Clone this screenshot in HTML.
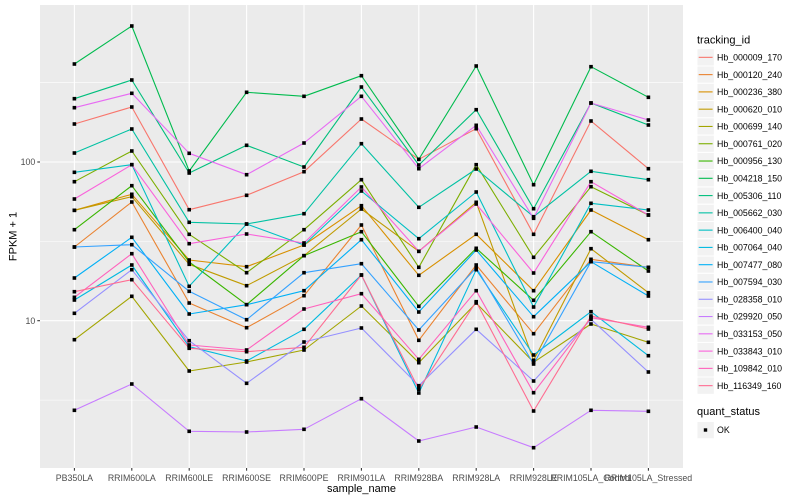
<!DOCTYPE html>
<html><head><meta charset="utf-8"><style>
html,body{margin:0;padding:0;background:#fff;}
svg{display:block;font-family:"Liberation Sans",Arial,sans-serif;}
</style></head><body>
<svg width="800" height="500" viewBox="0 0 800 500" xmlns="http://www.w3.org/2000/svg">
<defs>
<marker id="m" markerUnits="userSpaceOnUse" markerWidth="4" markerHeight="4" refX="1.8" refY="1.8" overflow="visible"><rect x="0" y="0" width="3.6" height="3.6" fill="#000"/></marker>
<polyline id="p1" points="74.4,124 131.8,107 189.2,209.7 246.6,195.3 304,171.7 361.4,119 418.8,159.3 476.2,128.7 533.6,234.3 591,121 648.4,168.7"/>
<polyline id="p2" points="74.4,247 131.8,202 189.2,303 246.6,327.7 304,295.7 361.4,225 418.8,340.3 476.2,265 533.6,333.7 591,259.3 648.4,267.3"/>
<polyline id="p3" points="74.4,210.3 131.8,194.3 189.2,260 246.6,266.7 304,245 361.4,205.7 418.8,275.3 476.2,234.3 533.6,290.7 591,210 648.4,239.7"/>
<polyline id="p4" points="74.4,210.3 131.8,196.7 189.2,264.3 246.6,285.7 304,255.7 361.4,209 418.8,251.3 476.2,202.3 533.6,360.3 591,248.7 648.4,292.7"/>
<polyline id="p5" points="74.4,339.7 131.8,296.3 189.2,371 246.6,362 304,350 361.4,306 418.8,362.7 476.2,303 533.6,362.3 591,324 648.4,342.3"/>
<polyline id="p6" points="74.4,181.7 131.8,151 189.2,234.3 246.6,272.7 304,229.7 361.4,179.7 418.8,267.3 476.2,164.7 533.6,257.3 591,186.7 648.4,215"/>
<polyline id="p7" points="74.4,229.7 131.8,185.7 189.2,262 246.6,304.7 304,255.7 361.4,231.7 418.8,306.3 476.2,248.3 533.6,300.3 591,231.7 648.4,271"/>
<polyline id="p8" points="74.4,64 131.8,26 189.2,171 246.6,92.3 304,96.3 361.4,75.7 418.8,159.3 476.2,66 533.6,184.7 591,66.7 648.4,97.3"/>
<polyline id="p9" points="74.4,98.7 131.8,80 189.2,173 246.6,145.3 304,167 361.4,87 418.8,165 476.2,109.7 533.6,208.7 591,103 648.4,125"/>
<polyline id="p10" points="74.4,153 131.8,129 189.2,222.3 246.6,224 304,213.7 361.4,143.7 418.8,207.3 476.2,169 533.6,216.7 591,171.3 648.4,179.7"/>
<polyline id="p11" points="74.4,172.3 131.8,164.7 189.2,286.3 246.6,224 304,245 361.4,191 418.8,238.7 476.2,192 533.6,307 591,203.3 648.4,210"/>
<polyline id="p12" points="74.4,300 131.8,265 189.2,346.7 246.6,361 304,329.3 361.4,275 418.8,393 476.2,269.7 533.6,355 591,311.7 648.4,355.7"/>
<polyline id="p13" points="74.4,278 131.8,237.3 189.2,314 246.6,304.7 304,290.7 361.4,239.7 418.8,312 476.2,250 533.6,316.7 591,261.7 648.4,296"/>
<polyline id="p14" points="74.4,247 131.8,244.7 189.2,291.3 246.6,319.7 304,272.7 361.4,263.7 418.8,330 476.2,267.7 533.6,364 591,261.7 648.4,267.3"/>
<polyline id="p15" points="74.4,313.3 131.8,269.7 189.2,340.7 246.6,383.3 304,342 361.4,328 418.8,385.7 476.2,329.3 533.6,381 591,319.3 648.4,372"/>
<polyline id="p16" points="74.4,410.3 131.8,384 189.2,431.3 246.6,432 304,429.3 361.4,398.7 418.8,441 476.2,427 533.6,447.7 591,410.3 648.4,411.3"/>
<polyline id="p17" points="74.4,107.7 131.8,93.3 189.2,153.3 246.6,174.7 304,143 361.4,96.3 418.8,168.7 476.2,125.3 533.6,218.3 591,103 648.4,120"/>
<polyline id="p18" points="74.4,199 131.8,164.7 189.2,243.7 246.6,234 304,243 361.4,187 418.8,251.3 476.2,204 533.6,273 591,181.7 648.4,215"/>
<polyline id="p19" points="74.4,297.3 131.8,253.7 189.2,345 246.6,350 304,309 361.4,293.7 418.8,359.3 476.2,290.7 533.6,392.7 591,317.7 648.4,327.3"/>
<polyline id="p20" points="74.4,291.7 131.8,279.7 189.2,348.3 246.6,351.7 304,347.3 361.4,275 418.8,389.3 476.2,301.7 533.6,411 591,316 648.4,329"/>
</defs>

<!-- panel -->
<rect x="40" y="5" width="643" height="463" fill="#EBEBEB"/>
<!-- minor grid -->
<g stroke="#fff" stroke-width="0.55">
<line x1="40" x2="683" y1="82.7" y2="82.7"/>
<line x1="40" x2="683" y1="241.4" y2="241.4"/>
<line x1="40" x2="683" y1="400.1" y2="400.1"/>
</g>
<!-- major grid -->
<g stroke="#fff" stroke-width="1.1">
<line x1="40" x2="683" y1="162" y2="162"/>
<line x1="40" x2="683" y1="320.7" y2="320.7"/>
<line x1="74.4" x2="74.4" y1="5" y2="468"/>
<line x1="131.8" x2="131.8" y1="5" y2="468"/>
<line x1="189.2" x2="189.2" y1="5" y2="468"/>
<line x1="246.6" x2="246.6" y1="5" y2="468"/>
<line x1="304" x2="304" y1="5" y2="468"/>
<line x1="361.4" x2="361.4" y1="5" y2="468"/>
<line x1="418.8" x2="418.8" y1="5" y2="468"/>
<line x1="476.2" x2="476.2" y1="5" y2="468"/>
<line x1="533.6" x2="533.6" y1="5" y2="468"/>
<line x1="591" x2="591" y1="5" y2="468"/>
<line x1="648.4" x2="648.4" y1="5" y2="468"/>
</g>

<!-- lines -->
<g fill="none" stroke-width="1.1" stroke-linejoin="round">
<use href="#p1" stroke="#F8766D"/>
<use href="#p2" stroke="#EA8331"/>
<use href="#p3" stroke="#D89000"/>
<use href="#p4" stroke="#C09B00"/>
<use href="#p5" stroke="#A3A500"/>
<use href="#p6" stroke="#7CAE00"/>
<use href="#p7" stroke="#39B600"/>
<use href="#p8" stroke="#00BB4E"/>
<use href="#p9" stroke="#00BF7D"/>
<use href="#p10" stroke="#00C1A3"/>
<use href="#p11" stroke="#00BFC4"/>
<use href="#p12" stroke="#00BAE0"/>
<use href="#p13" stroke="#00B0F6"/>
<use href="#p14" stroke="#35A2FF"/>
<use href="#p15" stroke="#9590FF"/>
<use href="#p16" stroke="#C77CFF"/>
<use href="#p17" stroke="#E76BF3"/>
<use href="#p18" stroke="#FA62DB"/>
<use href="#p19" stroke="#FF62BC"/>
<use href="#p20" stroke="#FF6C91"/>
</g>
<!-- points -->
<g fill="none" stroke="none" marker-start="url(#m)" marker-mid="url(#m)" marker-end="url(#m)">
<use href="#p1"/><use href="#p2"/><use href="#p3"/><use href="#p4"/><use href="#p5"/>
<use href="#p6"/><use href="#p7"/><use href="#p8"/><use href="#p9"/><use href="#p10"/>
<use href="#p11"/><use href="#p12"/><use href="#p13"/><use href="#p14"/><use href="#p15"/>
<use href="#p16"/><use href="#p17"/><use href="#p18"/><use href="#p19"/><use href="#p20"/>
</g>

<!-- axes ticks -->
<g stroke="#333" stroke-width="1.07">
<line x1="37.3" x2="40" y1="162" y2="162"/>
<line x1="37.3" x2="40" y1="320.7" y2="320.7"/>
<line x1="74.4" x2="74.4" y1="468" y2="470.7"/>
<line x1="131.8" x2="131.8" y1="468" y2="470.7"/>
<line x1="189.2" x2="189.2" y1="468" y2="470.7"/>
<line x1="246.6" x2="246.6" y1="468" y2="470.7"/>
<line x1="304" x2="304" y1="468" y2="470.7"/>
<line x1="361.4" x2="361.4" y1="468" y2="470.7"/>
<line x1="418.8" x2="418.8" y1="468" y2="470.7"/>
<line x1="476.2" x2="476.2" y1="468" y2="470.7"/>
<line x1="533.6" x2="533.6" y1="468" y2="470.7"/>
<line x1="591" x2="591" y1="468" y2="470.7"/>
<line x1="648.4" x2="648.4" y1="468" y2="470.7"/>
</g>
<g fill="#4D4D4D" font-size="8.8">
<text x="35.3" y="165.2" text-anchor="end">100</text>
<text x="35.3" y="323.9" text-anchor="end">10</text>
</g>
<g fill="#4D4D4D" font-size="8.8" text-anchor="middle">
<text x="74.4" y="481">PB350LA</text>
<text x="131.8" y="481">RRIM600LA</text>
<text x="189.2" y="481">RRIM600LE</text>
<text x="246.6" y="481">RRIM600SE</text>
<text x="304" y="481">RRIM600PE</text>
<text x="361.4" y="481">RRIM901LA</text>
<text x="418.8" y="481">RRIM928BA</text>
<text x="476.2" y="481">RRIM928LA</text>
<text x="533.6" y="481">RRIM928LE</text>
<text x="591" y="481">RRIM105LA_Control</text>
<text x="648.4" y="481">RRIM105LA_Stressed</text>
</g>
<text x="361.5" y="492" font-size="11" text-anchor="middle" fill="#000">sample_name</text>
<text transform="translate(16.5,236.5) rotate(-90)" font-size="11" text-anchor="middle" fill="#000">FPKM + 1</text>

<!-- legend -->
<text x="697" y="43.3" font-size="11" fill="#000">tracking_id</text>
<g fill="#F2F2F2" stroke="#fff" stroke-width="1">
<rect x="697" y="48.7" width="17.3" height="17.28"/>
<rect x="697" y="65.98" width="17.3" height="17.28"/>
<rect x="697" y="83.26" width="17.3" height="17.28"/>
<rect x="697" y="100.54" width="17.3" height="17.28"/>
<rect x="697" y="117.82" width="17.3" height="17.28"/>
<rect x="697" y="135.1" width="17.3" height="17.28"/>
<rect x="697" y="152.38" width="17.3" height="17.28"/>
<rect x="697" y="169.66" width="17.3" height="17.28"/>
<rect x="697" y="186.94" width="17.3" height="17.28"/>
<rect x="697" y="204.22" width="17.3" height="17.28"/>
<rect x="697" y="221.5" width="17.3" height="17.28"/>
<rect x="697" y="238.78" width="17.3" height="17.28"/>
<rect x="697" y="256.06" width="17.3" height="17.28"/>
<rect x="697" y="273.34" width="17.3" height="17.28"/>
<rect x="697" y="290.62" width="17.3" height="17.28"/>
<rect x="697" y="307.9" width="17.3" height="17.28"/>
<rect x="697" y="325.18" width="17.3" height="17.28"/>
<rect x="697" y="342.46" width="17.3" height="17.28"/>
<rect x="697" y="359.74" width="17.3" height="17.28"/>
<rect x="697" y="377.02" width="17.3" height="17.28"/>
<rect x="697" y="421.5" width="17.3" height="17.28"/>
</g>
<g stroke-width="1.1">
<line x1="698.7" x2="712.6" y1="57.34" y2="57.34" stroke="#F8766D"/>
<line x1="698.7" x2="712.6" y1="74.62" y2="74.62" stroke="#EA8331"/>
<line x1="698.7" x2="712.6" y1="91.9" y2="91.9" stroke="#D89000"/>
<line x1="698.7" x2="712.6" y1="109.18" y2="109.18" stroke="#C09B00"/>
<line x1="698.7" x2="712.6" y1="126.46" y2="126.46" stroke="#A3A500"/>
<line x1="698.7" x2="712.6" y1="143.74" y2="143.74" stroke="#7CAE00"/>
<line x1="698.7" x2="712.6" y1="161.02" y2="161.02" stroke="#39B600"/>
<line x1="698.7" x2="712.6" y1="178.3" y2="178.3" stroke="#00BB4E"/>
<line x1="698.7" x2="712.6" y1="195.58" y2="195.58" stroke="#00BF7D"/>
<line x1="698.7" x2="712.6" y1="212.86" y2="212.86" stroke="#00C1A3"/>
<line x1="698.7" x2="712.6" y1="230.14" y2="230.14" stroke="#00BFC4"/>
<line x1="698.7" x2="712.6" y1="247.42" y2="247.42" stroke="#00BAE0"/>
<line x1="698.7" x2="712.6" y1="264.7" y2="264.7" stroke="#00B0F6"/>
<line x1="698.7" x2="712.6" y1="281.98" y2="281.98" stroke="#35A2FF"/>
<line x1="698.7" x2="712.6" y1="299.26" y2="299.26" stroke="#9590FF"/>
<line x1="698.7" x2="712.6" y1="316.54" y2="316.54" stroke="#C77CFF"/>
<line x1="698.7" x2="712.6" y1="333.82" y2="333.82" stroke="#E76BF3"/>
<line x1="698.7" x2="712.6" y1="351.1" y2="351.1" stroke="#FA62DB"/>
<line x1="698.7" x2="712.6" y1="368.38" y2="368.38" stroke="#FF62BC"/>
<line x1="698.7" x2="712.6" y1="385.66" y2="385.66" stroke="#FF6C91"/>
</g>
<g fill="#000" font-size="8.8">
<text x="717" y="60.5">Hb_000009_170</text>
<text x="717" y="77.8">Hb_000120_240</text>
<text x="717" y="95.1">Hb_000236_380</text>
<text x="717" y="112.4">Hb_000620_010</text>
<text x="717" y="129.6">Hb_000699_140</text>
<text x="717" y="146.9">Hb_000761_020</text>
<text x="717" y="164.2">Hb_000956_130</text>
<text x="717" y="181.5">Hb_004218_150</text>
<text x="717" y="198.8">Hb_005306_110</text>
<text x="717" y="216.0">Hb_005662_030</text>
<text x="717" y="233.3">Hb_006400_040</text>
<text x="717" y="250.6">Hb_007064_040</text>
<text x="717" y="267.9">Hb_007477_080</text>
<text x="717" y="285.2">Hb_007594_030</text>
<text x="717" y="302.4">Hb_028358_010</text>
<text x="717" y="319.7">Hb_029920_050</text>
<text x="717" y="337.0">Hb_033153_050</text>
<text x="717" y="354.3">Hb_033843_010</text>
<text x="717" y="371.6">Hb_109842_010</text>
<text x="717" y="388.8">Hb_116349_160</text>
</g>
<text x="697" y="415" font-size="11" fill="#000">quant_status</text>
<rect x="703.8" y="428.3" width="3.4" height="3.4" fill="#000"/>
<text x="717" y="433.2" font-size="8.8" fill="#000">OK</text>
</svg>
</body></html>
